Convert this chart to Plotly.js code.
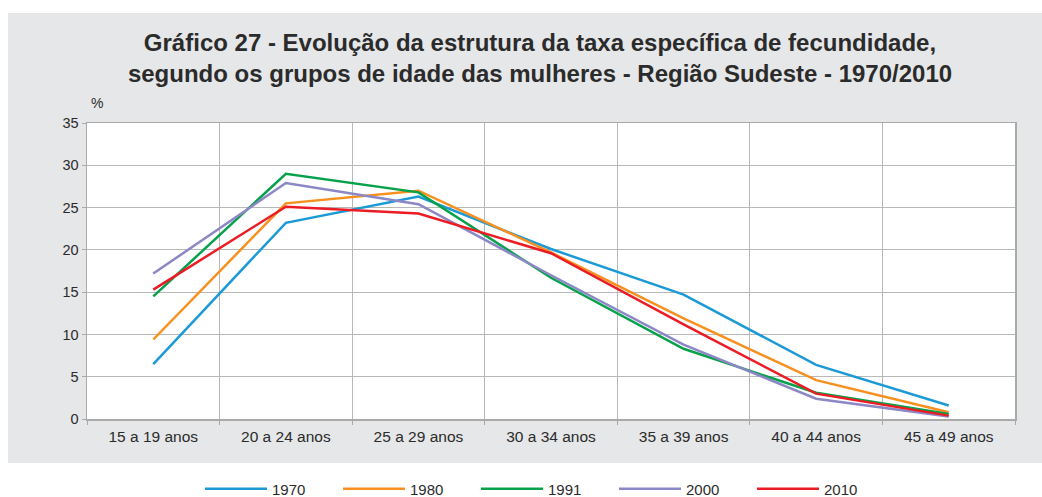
<!DOCTYPE html>
<html>
<head>
<meta charset="utf-8">
<script src="https://cdn.plot.ly/plotly-3.0.1.min.js"></script>
<style>html,body{margin:0;padding:0;background:#fff;}#chart{width:1042px;height:497px;}</style>
</head>
<body>
<div id="chart"></div>
<script>
const categories = ["15 a 19 anos","20 a 24 anos","25 a 29 anos","30 a 34 anos","35 a 39 anos","40 a 44 anos","45 a 49 anos"];
const years = ["1970","1980","1991","2000","2010"];
const v1970 = [6.5, 23.2, 26.3, 20.1, 14.7, 6.4, 1.6];
const v1980 = [9.4, 25.5, 27.0, 19.7, 11.9, 4.6, 0.8];
const v1991 = [14.5, 29.0, 26.8, 16.7, 8.3, 3.1, 0.6];
const v2000 = [17.2, 27.9, 25.4, 17.0, 8.8, 2.4, 0.3];
const v2010 = [15.3, 25.1, 24.3, 19.6, 11.2, 3.0, 0.4];
const series = [v1970, v1980, v1991, v2000, v2010];
const colors = ["#1b9ad6", "#f7901e", "#06a14b", "#8c87c5", "#ec1c24"];

const traces = series.map((vals, i) => ({
  type: "scatter", mode: "lines", x: categories, y: vals, name: years[i],
  line: {color: colors[i], width: 2.5}
}));

const L = 87, R = 1015, T = 123, B = 419, W = 1042, H = 497;
const pw = R - L, ph = B - T;
const layout = {
  width: W, height: H,
  margin: {l: L, r: W - R, t: T, b: H - B, pad: 0},
  paper_bgcolor: "#ffffff", plot_bgcolor: "#ffffff",
  font: {family: "Liberation Sans, Arial, sans-serif", color: "#2b2b2b", size: 14},
  title: {
    text: "<b>Gráfico 27 - Evolução da estrutura da taxa específica de fecundidade,<br>segundo os grupos de idade das mulheres - Região Sudeste - 1970/2010</b>",
    font: {size: 24, color: "#2b2b2b", family: "Liberation Sans, Arial, sans-serif"},
    xref: "container", x: 540 / W, xanchor: "center",
    yref: "container", y: 1 - 51 / H, yanchor: "top"
  },
  xaxis: {
    type: "category", tickson: "boundaries", range: [-0.5, categories.length - 0.5],
    showgrid: true, gridcolor: "#b8b8b8", gridwidth: 1,
    showline: true, linecolor: "#aaaaaa", linewidth: 1.5, mirror: true,
    ticks: "outside", ticklen: 4, tickcolor: "#aaaaaa", ticklabelstandoff: 3,
    tickfont: {size: 15.5, color: "#2b2b2b"}, fixedrange: true
  },
  yaxis: {
    range: [0, 35], dtick: 5, tick0: 0,
    showgrid: true, gridcolor: "#b8b8b8", gridwidth: 1,
    showline: true, linecolor: "#aaaaaa", linewidth: 1.5, mirror: true,
    zeroline: false,
    ticks: "outside", ticklen: 4, tickcolor: "#aaaaaa",
    tickfont: {size: 14.5, color: "#2b2b2b"}, fixedrange: true
  },
  showlegend: true,
  legend: {
    orientation: "h", xref: "container", yref: "container",
    x: 200 / W, xanchor: "left", y: 1 - 489 / H, yanchor: "middle",
    font: {size: 15, color: "#2b2b2b"},
    itemwidth: 62, entrywidth: 61, entrywidthmode: "pixels",
    bgcolor: "rgba(0,0,0,0)", tracegroupgap: 0
  },
  shapes: [{
    type: "rect", xref: "paper", yref: "paper", layer: "below",
    x0: (8 - L) / pw, x1: (W - L) / pw + 0.01,
    y0: (B - 463) / ph, y1: (B - 13) / ph,
    fillcolor: "#e6e7e8", line: {width: 0}
  }, {
    type: "rect", xref: "paper", yref: "paper", layer: "below",
    x0: 0, x1: 1, y0: 0, y1: 1,
    fillcolor: "#ffffff", line: {width: 0}
  }],
  annotations: [{
    text: "%", xref: "paper", yref: "paper", showarrow: false,
    x: (97 - L) / pw, y: (B - 103) / ph, xanchor: "center", yanchor: "middle",
    font: {size: 14, color: "#2b2b2b"}
  }]
};

Plotly.newPlot("chart", traces, layout, {displayModeBar: false, staticPlot: true});
</script>
</body>
</html>
